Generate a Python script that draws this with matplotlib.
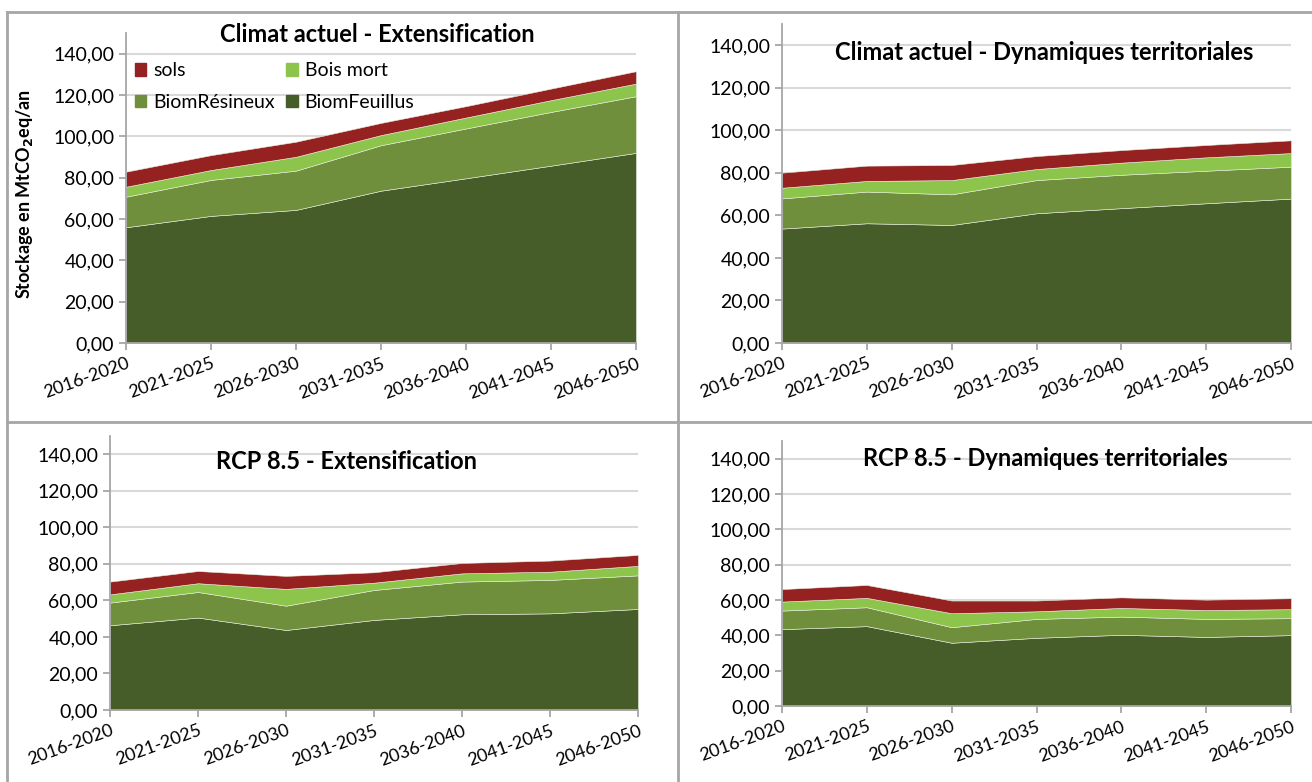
import matplotlib
matplotlib.use("Agg")
import matplotlib.pyplot as plt
from matplotlib.lines import Line2D
from matplotlib.patches import Patch
from matplotlib.ticker import FuncFormatter

plt.rcParams['font.family'] = ['Lato', 'DejaVu Sans']

periods = ["2016-2020", "2021-2025", "2026-2030", "2031-2035",
           "2036-2040", "2041-2045", "2046-2050"]

# Climat actuel - Extensification
ca_ext_feuillus = [56.0, 61.5, 64.4, 73.7, 79.7, 85.8, 92.0]
ca_ext_resineux = [14.8, 17.4, 19.0, 22.0, 24.1, 26.0, 27.4]
ca_ext_boismort = [4.8, 4.8, 6.7, 4.9, 5.3, 5.7, 6.1]
ca_ext_sols = [7.3, 7.2, 7.3, 5.9, 5.5, 5.6, 6.0]

# Climat actuel - Dynamiques territoriales
ca_dyn_feuillus = [53.8, 56.3, 55.5, 61.0, 63.4, 65.7, 67.9]
ca_dyn_resineux = [14.2, 14.9, 14.4, 15.6, 15.7, 15.3, 15.0]
ca_dyn_boismort = [5.0, 5.0, 6.7, 5.2, 5.7, 6.3, 6.4]
ca_dyn_sols = [7.1, 7.2, 7.1, 6.1, 5.9, 5.8, 6.0]

# RCP 8.5 - Extensification
rcp_ext_feuillus = [46.4, 50.6, 43.8, 49.3, 52.4, 52.9, 55.3]
rcp_ext_resineux = [12.4, 14.0, 13.3, 16.4, 17.9, 18.3, 18.4]
rcp_ext_boismort = [4.5, 4.8, 9.2, 4.0, 4.5, 4.5, 5.2]
rcp_ext_sols = [7.0, 6.7, 7.1, 5.7, 5.7, 6.1, 6.0]

# RCP 8.5 - Dynamiques territoriales
rcp_dyn_feuillus = [43.5, 45.2, 35.8, 38.6, 40.3, 39.1, 40.1]
rcp_dyn_resineux = [10.5, 10.7, 8.8, 10.7, 10.3, 10.2, 9.6]
rcp_dyn_boismort = [5.1, 5.3, 7.9, 4.3, 4.9, 5.0, 5.1]
rcp_dyn_sols = [7.1, 7.3, 7.2, 6.1, 6.0, 5.9, 6.2]

series_names = ["BiomFeuillus", "BiomRésineux", "Bois mort", "sols"]
colors = ["#475D29", "#6F8F3C", "#8DC44B", "#952120"]

W, H = 1312, 782
fig = plt.figure(figsize=(W / 100, H / 100), dpi=100)
fig.patch.set_facecolor("white")


def px_axes(x0, x1, y0, y1):
    return fig.add_axes([x0 / W, 1 - y1 / H, (x1 - x0) / W, (y1 - y0) / H])


def draw_panel(ax, feuillus, resineux, boismort, sols):
    xs = range(len(periods))
    ax.stackplot(xs, feuillus, resineux, boismort, sols, colors=colors,
                 edgecolor="#E8EEDD", linewidth=0.4, zorder=2)
    ax.set_xlim(0, len(periods) - 1)
    ax.set_ylim(0, 150)
    ax.set_yticks(range(0, 141, 20))
    ax.yaxis.set_major_formatter(FuncFormatter(lambda v, p: f"{v:.2f}".replace(".", ",")))
    ax.set_xticks(list(xs))
    ax.set_xticklabels(periods, rotation=20, ha="right", rotation_mode="anchor")
    ax.grid(axis="y", color="#D9D9D9", linewidth=1.5, zorder=0)
    ax.set_axisbelow(True)
    for s in ["top", "right"]:
        ax.spines[s].set_visible(False)
    for s in ["left", "bottom"]:
        ax.spines[s].set_color("#A6A6A6")
        ax.spines[s].set_linewidth(1.3)
    ax.tick_params(axis="both", colors="#A6A6A6", labelcolor="black",
                   direction="out", length=5, width=1.3)
    ax.tick_params(axis="y", labelsize=14)
    ax.tick_params(axis="x", labelsize=13, pad=4)


ax1 = px_axes(126, 636, 33, 343)
draw_panel(ax1, ca_ext_feuillus, ca_ext_resineux, ca_ext_boismort, ca_ext_sols)
ax2 = px_axes(782, 1291, 24, 343)
draw_panel(ax2, ca_dyn_feuillus, ca_dyn_resineux, ca_dyn_boismort, ca_dyn_sols)
ax3 = px_axes(110, 638, 436, 710)
draw_panel(ax3, rcp_ext_feuillus, rcp_ext_resineux, rcp_ext_boismort, rcp_ext_sols)
ax4 = px_axes(782, 1291, 441, 706)
draw_panel(ax4, rcp_dyn_feuillus, rcp_dyn_resineux, rcp_dyn_boismort, rcp_dyn_sols)

titles = [("Climat actuel - Extensification", 377, 35),
          ("Climat actuel - Dynamiques territoriales", 1044, 52),
          ("RCP 8.5 - Extensification", 347, 462),
          ("RCP 8.5 - Dynamiques territoriales", 1045, 458)]
for txt, x, y in titles:
    fig.text(x / W, 1 - y / H, txt, ha="center", va="center",
             fontsize=17, fontweight="bold")

fig.text(25 / W, 1 - 194 / H, r"Stockage en MtCO$_\mathbf{2}$eq/an", rotation=90,
         ha="center", va="center", fontsize=13, fontweight="bold")

# legend (row-wise: sols, Bois mort / BiomRésineux, BiomFeuillus)
handles = [Patch(color=colors[3]), Patch(color=colors[1]),
           Patch(color=colors[2]), Patch(color=colors[0])]
labels = ["sols", "BiomRésineux", "Bois mort", "BiomFeuillus"]
ax1.legend(handles, labels, ncol=2, loc="upper left",
           bbox_to_anchor=(117 / W, 1 - 45 / H), bbox_transform=fig.transFigure,
           frameon=False, fontsize=14, handlelength=0.6, handleheight=0.6,
           handletextpad=0.35, columnspacing=0.6, labelspacing=0.75)

# panel borders
border = dict(color="#A6A6A6", linewidth=2, transform=fig.transFigure)
fig.add_artist(Line2D([7 / W, 1], [1 - 12 / H, 1 - 12 / H], **border))
fig.add_artist(Line2D([7 / W, 7 / W], [0, 1 - 12 / H], **border))
fig.add_artist(Line2D([678 / W, 678 / W], [0, 1 - 12 / H], **border))
fig.add_artist(Line2D([7 / W, 1], [1 - 422 / H, 1 - 422 / H], **border))

fig.savefig("out.png", dpi=100)
